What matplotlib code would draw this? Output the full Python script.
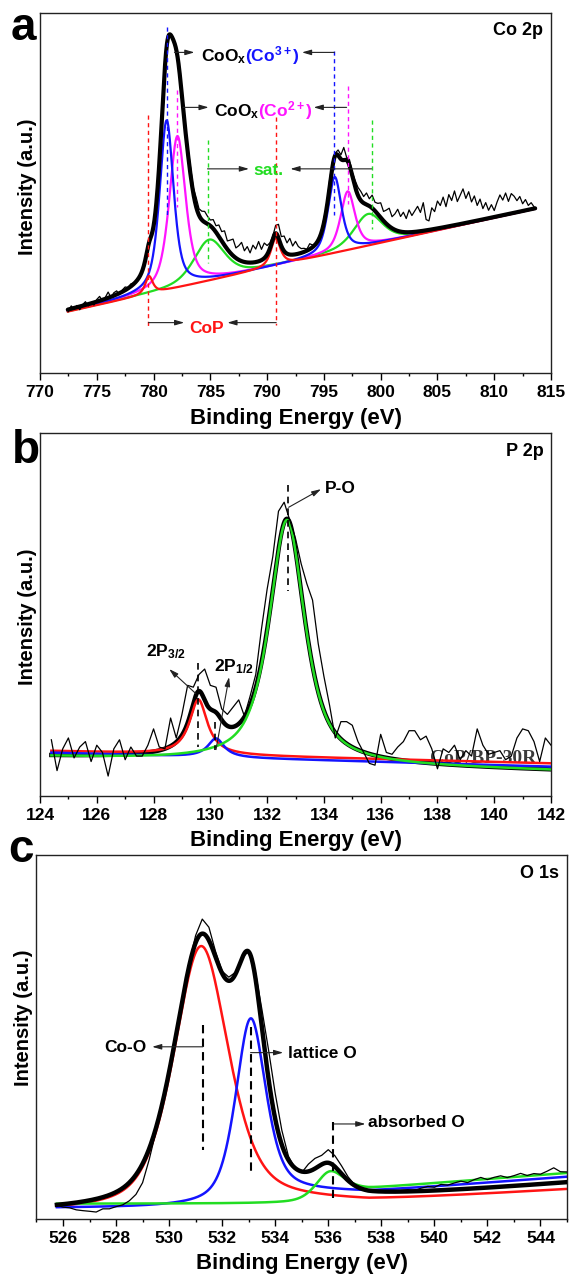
import numpy as np
import matplotlib
matplotlib.use("Agg")
import matplotlib.pyplot as plt
from matplotlib.ticker import MultipleLocator

plt.rcParams['font.family'] = ['Liberation Sans', 'DejaVu Sans']
plt.rcParams['font.weight'] = 'bold'
plt.rcParams['mathtext.fontset'] = 'custom'
plt.rcParams['mathtext.rm'] = 'Liberation Sans:bold'
plt.rcParams['mathtext.it'] = 'Liberation Sans:bold'
plt.rcParams['mathtext.bf'] = 'Liberation Sans:bold'

RED, BLUE, MAG, GREEN = '#ff1414', '#1414ff', '#ff14ff', '#22dd22'

# ---------------- data (intensity in a.u., 0 = axis bottom, 100 = axis top) ----------------
# (a) Co 2p: fitted components (red=CoP, blue=Co3+, magenta=Co2+, green=sat.)
co_range = (772.45, 813.6)
co_bg = (17.1, 0.693)                       # linear background: value at start, slope
co_center = [[779.6, 790.75], [781.15, 795.95], [782.1, 797.1], [784.9, 798.9]]
co_height = [[4.9, 7.7], [47.0, 21.0], [42.0, 16.2], [11.3, 8.7]]
co_fwhm = [[0.8, 1.0], [1.45, 1.4], [1.7, 1.5], [3.2, 3.0]]
co_eta = [[0.8, 0.8], [0.6, 0.6], [0.6, 0.6], [0.5, 0.5]]
co_colors = [RED, BLUE, MAG, GREEN]
# extra intensity of the envelope on the high-energy flank of the main peak
co_env_extra = (783.0, 9.0, 1.6, 0.5)
# measured spectrum, given as deviation from the envelope, every 0.25 eV from 772.5 eV
co_raw_start = 772.5
co_raw_resid = [
    -0.6, 0.8, -0.4, 0.5, -0.9, 0.3, 0.9, -0.5, 0.2, -0.7, 0.6, 1.2, -0.3, 0.4, 1.6, -0.2,
    0.8, 1.0, -0.4, 0.5, 0.9, 0.2, 0.7, 0.3, -0.2,
    0.3, -0.2, 0.4, 0.6, 0.2, -0.3, 0.2, 0.5, 0.0, 0.3, -0.4, 0.2, 0.6, -0.3, 0.4, 0.8, 1.2, 1.5,
    2.2, 1.5, 2.6, 1.8, 2.4, 3.0, 2.1, 1.6,
    2.5, 1.8, 3.2, 2.6, 4.0, 2.3, 3.5, 4.6, 2.8, 3.9, 5.2, 3.1, 4.4, 2.7, 4.8, 3.6, 5.5, 3.0, 4.2, 2.5,
    1.5, 0.8, 2.2, 3.8, 2.6, 4.2, 3.0, 4.5, 2.4, 3.6, 2.0, 1.2,
    1.0, 0.4, 1.5, 0.6, 0.2, -0.3, 0.5, 1.2, 0.8, 2.0, 1.5, 0.6, 1.5, 1.2, 3.5, 0.8, 1.6, 1.0, 1.8, 2.2,
    2.5, 1.8, 3.2, 2.0, 3.6, 2.4, 3.0, 4.1, 2.6, 3.8, 5.0, 3.2, 4.4, 6.0, 4.2, 5.5, 3.8, 6.2, 4.6, 5.8,
    7.0, 5.2, 7.8, 3.0, 2.5, 6.0, 4.8, 7.6, 6.2, 8.4, 5.6, 8.8, 7.0, 9.5, 6.4, 8.0, 9.6, 6.8,
    8.5, 5.5, 7.0, 4.2, 5.8, 3.0, 4.5, 2.2, 3.6, 1.8, 4.0, 5.8, 4.2, 6.0, 3.5, 5.5, 4.6, 3.2,
    4.2, 2.0, 3.0, 1.2, 1.8, 0.5,
]

# (b) P 2p: red=2P3/2, blue=2P1/2, green=P-O
p_range = (124.4, 142.0)
p_center = [129.58, 130.2, 132.7]
p_height = [15.2, 5.2, 67.1]
p_fwhm = [0.76, 0.7, 1.5]
p_eta = [1.0, 1.0, 0.75]
p_bg_start = [12.4, 11.95, 10.8]
p_bg_slope = [-0.193, -0.219, -0.216]
p_env_bg = (10.8, -0.216)
p_colors = [RED, BLUE, GREEN]
# measured spectrum every 0.2 eV from 124.4 eV
p_raw_start = 124.4
p_raw = [
    15.5, 7.0, 13.0, 16.0, 10.5, 13.5, 15.0, 9.5, 14.0, 12.0, 5.5, 13.0, 15.5, 10.0, 13.5, 11.0,
    11.0, 14.0, 18.5, 13.5, 13.0, 21.5, 16.0, 22.5, 30.5, 30.0, 33.5, 35.0, 30.5, 30.0, 24.0, 22.5,
    24.5, 26.5, 22.0, 27.5, 33.5, 46.0, 57.0, 66.0, 78.5, 81.0, 76.0, 71.0, 64.0, 58.5, 54.0, 42.0,
    33.0, 25.0, 16.0, 20.5, 20.5, 19.5, 15.0, 12.0, 9.0, 8.5, 17.0, 12.0, 11.5, 13.5, 15.0, 18.0,
    18.0, 15.5, 16.5, 13.0, 7.5, 13.0, 12.0, 14.0, 10.0, 12.5, 11.0, 18.5, 14.0, 11.5, 12.0, 12.5,
    10.0, 11.0, 16.0, 18.5, 18.0, 15.0, 9.5, 16.0, 14.0,
]

# (c) O 1s: red=Co-O, blue=lattice O, green=absorbed O
o_range = (525.77, 545.0)
o_center = [531.2, 533.07, 536.02]
o_height = [71.8, 49.9, 6.65]
o_fwhm = [2.45, 1.35, 1.25]
o_eta = [0.5, 0.55, 0.5]
o_bg_base = [1.8, 3.0, 4.2]
o_bg_step = [2.8, 4.4, 4.3]
o_bg_slope = [0.45, 0.55, 0.55]
o_env_bg = (1.9, 3.48, 0.58)
o_knee = 537.5
o_colors = [RED, BLUE, GREEN]
# measured spectrum as deviation from the envelope, every 0.25 eV from 525.75 eV
o_raw_start = 525.75
o_raw_resid = [
    0.0, -0.8, -1.2, -2.0, -2.5, -3.0, -3.6, -3.2, -3.8, -4.0, -4.6, -5.0, -5.4, -5.2, -3.0, -1.0,
    -0.3, 0.2, 0.3, 0.4, 0.8, 2.0, 4.0, 3.6, 1.5, 0.6, 1.0, 0.5, 0.0, 0.2, 1.5, 5.0, 8.0, 7.0,
    4.0, 1.0, 0.0, -0.3, 2.0, 2.8, 2.5, 3.6, 3.0, 2.2, 1.0, 0.2, 0.0, -0.2, 0.1, 0.0, 0.2, -0.1,
    0.3, 0.5, 0.2, 0.8, 1.2, 0.9, 1.6, 1.3, 1.8, 2.2, 1.7, 2.4, 2.9, 2.2, 2.7, 3.0, 2.4, 2.8,
    3.3, 2.6, 3.0, 2.7, 3.4, 4.2, 3.0, 2.8,
]


def pvoigt(x, c, h, w, eta):
    d = (x - c) / w
    return h * (eta / (1 + 4 * d ** 2) + (1 - eta) * np.exp(-4 * np.log(2) * d ** 2))


def shirley_like(x, peak, base, step, slope, knee):
    cdf = np.cumsum(peak)
    cdf = cdf / cdf[-1]
    return base + step * cdf + slope * np.clip(x - knee, 0, None)


def style_axes(ax, xlim, major, minor, tag):
    ax.set_xlim(*xlim)
    ax.set_ylim(0, 100)
    ax.set_yticks([])
    ax.xaxis.set_major_locator(MultipleLocator(major))
    ax.xaxis.set_minor_locator(MultipleLocator(minor))
    ax.tick_params(axis='x', which='major', direction='out', length=5, width=1, pad=3.5,
                   labelsize=12.5)
    ax.tick_params(axis='x', which='minor', direction='out', length=2.5, width=1)
    for lab in ax.get_xticklabels():
        lab.set_fontweight('bold')
    for s in ax.spines.values():
        s.set_linewidth(1.0)
        s.set_color('#222222')
    ax.set_xlabel('Binding Energy (eV)', fontsize=16, fontweight='bold', labelpad=5.5)
    ax.set_ylabel('Intensity (a.u.)', fontsize=14.5, fontweight='bold')
    ax.text(0.985, 0.95, tag, transform=ax.transAxes, ha='right', va='center',
            fontsize=13, fontweight='bold')


def vdash(ax, x, y0, y1, color, lw=1.0, dash=(3, 2.5)):
    ax.plot([x, x], [y0, y1], color=color, lw=lw, ls=(0, dash), zorder=6)


def arrow(ax, x0, y0, x1, y1):
    ax.annotate('', xy=(x1, y1), xytext=(x0, y0), zorder=7,
                arrowprops=dict(arrowstyle='-|>,head_length=0.55,head_width=0.16',
                                color='#222222', lw=0.8, shrinkA=0, shrinkB=0))


def two_tone(ax, x, y, first, second, color):
    t = ax.text(x, y, first, fontsize=12.5, fontweight='bold', zorder=8)
    ax.annotate(second, xy=(1, y), xycoords=(t, 'data'), xytext=(-1.5, 0),
                textcoords='offset points', fontsize=12.5, fontweight='bold',
                color=color, va='baseline', zorder=8)


fig = plt.figure(figsize=(5.69, 12.74), dpi=100)

# ------------------------------- (a) Co 2p -------------------------------
ax = fig.add_axes([0.0703, 0.7070, 0.8981, 0.2830])
x = np.linspace(*co_range, 1500)
bg = co_bg[0] + co_bg[1] * (x - x[0])
peaks = [sum(pvoigt(x, c, h, w, e) for c, h, w, e in zip(cs, hs, ws, es))
         for cs, hs, ws, es in zip(co_center, co_height, co_fwhm, co_eta)]
for pk, col in zip(peaks[::-1], co_colors[::-1]):
    ax.plot(x, bg + pk, color=col, lw=1.6, zorder=2)
env = bg + sum(peaks) + pvoigt(x, *co_env_extra)
ax.plot(x, env, color='black', lw=3.0, zorder=3, solid_capstyle='round')
xr = co_raw_start + 0.25 * np.arange(len(co_raw_resid))
ax.plot(xr, np.interp(xr, x, env) + np.array(co_raw_resid), color='black', lw=0.9, zorder=4)
style_axes(ax, (770, 815), 5, 2.5, 'Co 2p')
ax.yaxis.set_label_coords(-0.006, 0.517)

vdash(ax, 781.15, 96.0, 44.0, BLUE)
vdash(ax, 795.92, 89.4, 44.0, BLUE)
vdash(ax, 782.1, 78.5, 46.0, MAG)
vdash(ax, 797.1, 79.8, 47.0, MAG)
vdash(ax, 779.55, 71.6, 12.9, RED)
vdash(ax, 790.8, 71.2, 13.4, RED)
vdash(ax, 784.75, 64.7, 30.5, GREEN)
vdash(ax, 799.2, 70.3, 40.0, GREEN)

arrow(ax, 781.84, 89.0, 783.6, 89.0)
arrow(ax, 795.92, 89.0, 793.07, 89.0)
two_tone(ax, 784.2, 86.4, r'CoO$_\mathregular{x}$', r'(Co$^{3+}$)', BLUE)
arrow(ax, 782.6, 73.75, 784.85, 73.75)
arrow(ax, 797.0, 73.75, 794.1, 73.75)
two_tone(ax, 785.35, 71.2, r'CoO$_\mathregular{x}$', r'(Co$^{2+}$)', MAG)
arrow(ax, 784.75, 56.7, 788.4, 56.7)
arrow(ax, 799.2, 56.7, 792.05, 56.7)
ax.text(788.8, 55.0, 'sat.', fontsize=12.5, fontweight='bold', color=GREEN, zorder=8)
arrow(ax, 779.55, 14.05, 782.7, 14.05)
arrow(ax, 790.8, 14.05, 786.5, 14.05)
ax.text(783.15, 11.2, 'CoP', fontsize=12.5, fontweight='bold', color=RED, zorder=8)

# ------------------------------- (b) P 2p -------------------------------
ax = fig.add_axes([0.0703, 0.3752, 0.8981, 0.2847])
x = np.linspace(*p_range, 1200)
peaks = [pvoigt(x, c, h, w, e) for c, h, w, e in zip(p_center, p_height, p_fwhm, p_eta)]
xr = p_raw_start + 0.2 * np.arange(len(p_raw))
ax.plot(xr, p_raw, color='black', lw=0.9, zorder=4)
env = p_env_bg[0] + p_env_bg[1] * (x - x[0]) + sum(peaks)
ax.plot(x, env, color='black', lw=3.2, zorder=2)
for pk, b0, sl, col in zip(peaks, p_bg_start, p_bg_slope, p_colors):
    ax.plot(x, b0 + sl * (x - x[0]) + pk, color=col, lw=1.8, zorder=3)
ax.text(137.72, 9.2, 'CoP/BP-30R', family=['Liberation Serif', 'DejaVu Serif'],
        fontsize=14, fontweight='bold', color='#3a3a3a', zorder=1)
style_axes(ax, (124, 142), 2, 1, 'P 2p')
ax.yaxis.set_label_coords(-0.006, 0.494)

vdash(ax, 132.72, 85.7, 56.5, 'black', lw=1.2, dash=(4, 3))
vdash(ax, 129.58, 36.6, 13.5, 'black', lw=1.2, dash=(4, 3))
vdash(ax, 130.18, 20.5, 12.7, 'black', lw=1.2, dash=(4, 3))
arrow(ax, 132.76, 79.6, 133.9, 84.6)
ax.text(134.03, 83.6, 'P-O', fontsize=12.5, fontweight='bold', zorder=8)
arrow(ax, 129.48, 28.3, 128.55, 35.0)
ax.text(127.72, 38.6, r'2P$_{3/2}$', fontsize=12.5, fontweight='bold', zorder=8)
arrow(ax, 130.2, 12.8, 130.66, 32.8)
ax.text(130.14, 34.4, r'2P$_{1/2}$', fontsize=12.5, fontweight='bold', zorder=8)

# ------------------------------- (c) O 1s -------------------------------
ax = fig.add_axes([0.0641, 0.0432, 0.9324, 0.2857])
x = np.linspace(*o_range, 1200)
peaks = [pvoigt(x, c, h, w, e) for c, h, w, e in zip(o_center, o_height, o_fwhm, o_eta)]
for pk, b0, st, sl, col in zip(peaks, o_bg_base, o_bg_step, o_bg_slope, o_colors):
    ax.plot(x, shirley_like(x, pk, b0, st, sl, o_knee) + pk, color=col, lw=1.8, zorder=2)
tot = sum(peaks)
env = shirley_like(x, tot, o_env_bg[0], o_env_bg[1], o_env_bg[2], o_knee) + tot
ax.plot(x, env, color='black', lw=3.2, zorder=3)
xr = o_raw_start + 0.25 * np.arange(len(o_raw_resid))
ax.plot(xr, np.interp(xr, x, env) + np.array(o_raw_resid), color='black', lw=0.9, zorder=4)
style_axes(ax, (525, 545), 2, 1, 'O 1s')
ax.yaxis.set_label_coords(-0.007, 0.552)

vdash(ax, 531.27, 53.3, 19.0, 'black', lw=1.5, dash=(4, 2.5))
vdash(ax, 533.07, 52.8, 12.1, 'black', lw=1.5, dash=(4, 2.5))
vdash(ax, 536.18, 26.7, 5.7, 'black', lw=1.5, dash=(4, 2.5))
arrow(ax, 531.27, 47.3, 529.36, 47.3)
ax.text(527.55, 46.0, 'Co-O', fontsize=12.5, fontweight='bold', ha='left', zorder=8)
arrow(ax, 533.07, 45.7, 534.3, 45.7)
ax.text(534.5, 44.1, 'lattice O', fontsize=12.5, fontweight='bold', zorder=8)
arrow(ax, 536.22, 26.1, 537.4, 26.1)
ax.text(537.5, 25.2, 'absorbed O', fontsize=12.5, fontweight='bold', zorder=8)

# panel letters
fig.text(11 / 569, 1 - 40 / 1274, 'a', fontsize=33, fontweight='bold', va='baseline')
fig.text(12 / 569, 1 - 463 / 1274, 'b', fontsize=33, fontweight='bold', va='baseline')
fig.text(8 / 569, 1 - 862 / 1274, 'c', fontsize=33, fontweight='bold', va='baseline')

fig.savefig('out.png', dpi=100)
